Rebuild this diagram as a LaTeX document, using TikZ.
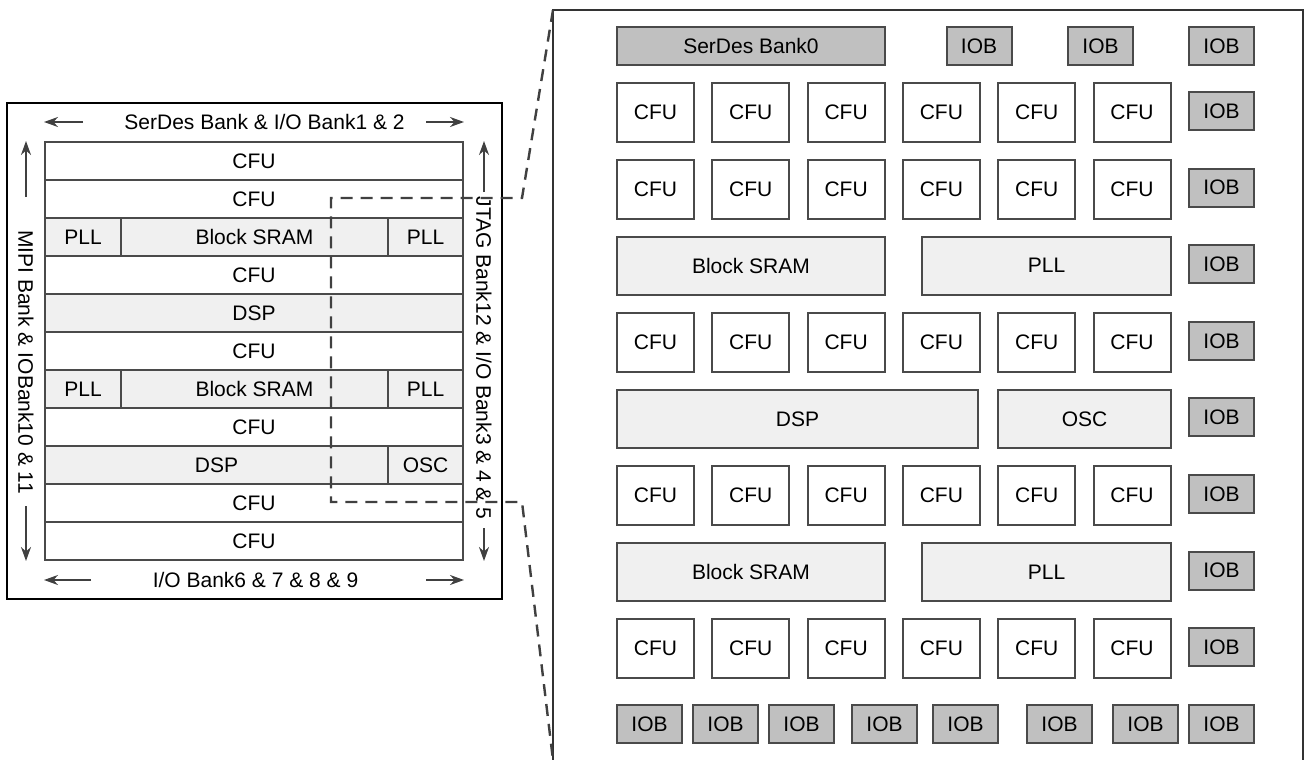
\documentclass[tikz,border=0pt]{standalone}
\usepackage{fontspec}
\setmainfont{Liberation Sans}
\usetikzlibrary{arrows.meta}
\definecolor{edgegray}{HTML}{4A4A4A}
\definecolor{lightfill}{HTML}{F0F0F0}
\definecolor{iofill}{HTML}{C0C0C0}
\begin{document}
\begin{tikzpicture}
		[x=1pt,y=-1pt,
		font=\fontsize{21}{25}\selectfont,
		blk/.style={draw=edgegray,line width=2pt,inner sep=0pt},
		row/.style={blk,fill=white,minimum width=418pt,minimum height=38pt},
		lrow/.style={blk,fill=lightfill,minimum height=38pt},
		cfu/.style={blk,fill=white,minimum width=77pt,minimum height=59pt},
		big/.style={blk,fill=lightfill,minimum height=58pt},
		iob/.style={blk,fill=iofill,minimum width=65pt,minimum height=38pt},
		arr/.style={draw=black!75,line width=2pt,-{Stealth[length=14pt,width=10pt]}},
		zoomline/.style={draw=black!75,line width=2.4pt,dash pattern=on 12pt off 8pt}
		]
		\useasboundingbox (0,0) rectangle (1307,760);
		
		% small chip
		\node[draw,line width=2.2pt,minimum width=495pt,minimum height=496pt,inner sep=0pt] (chip) at (254.5,351) {};
		\foreach \i in {0,1,3,5,7,9,10}
			\node[row] (l\i) at (254,161+38*\i) {CFU};
		\node[row,fill=lightfill] (l4) at (254,313) {DSP};
		\foreach \i in {2,6} {
			\node[lrow,minimum width=76pt] (lpa\i) at (83,161+38*\i) {PLL};
			\node[lrow,minimum width=267pt] (lsram\i) at (254.5,161+38*\i) {Block SRAM};
			\node[lrow,minimum width=75pt] (lpb\i) at (425.5,161+38*\i) {PLL};
		}
		\node[lrow,minimum width=343pt] (l8) at (216.5,465) {DSP};
		\node[lrow,minimum width=75pt] (losc) at (425.5,465) {OSC};
		
		\node[inner sep=0pt] (topbank) at (264.5,122) {SerDes Bank \& I/O Bank1 \& 2};
		\node[inner sep=0pt] (botbank) at (255.5,580) {I/O Bank6 \& 7 \& 8 \& 9};
		\node[inner sep=0pt,rotate=-90] (leftbank) at (26,362) {MIPI Bank \& IOBank10 \& 11};
		\node[inner sep=0pt,rotate=-90] (rightbank) at (484,358) {JTAG Bank12 \& I/O Bank3 \& 4 \& 5};
		\coordinate (tw) at (83,122);
		\coordinate (te) at (426,122);
		\coordinate (bw) at (91,580);
		\coordinate (be) at (426,580);
		\coordinate (lt) at (26,197);
		\coordinate (lb) at (26,506);
		\coordinate (rt) at (484,192);
		\coordinate (rb) at (484,528);
		\draw[arr] (tw) -- (tw -| l0.west);
		\draw[arr] (te) -- (te -| l0.east);
		\draw[arr] (bw) -- (bw -| l10.west);
		\draw[arr] (be) -- (be -| l10.east);
		\draw[arr] (lt) -- (lt |- l0.north);
		\draw[arr] (lb) -- (lb |- l10.south);
		\draw[arr] (rt) -- (rt |- l0.north);
		\draw[arr] (rb) -- (rb |- l10.south);
		
		% zoomed part
		\coordinate (pnw) at (553,10);
		\coordinate (pne) at (1303,10);
		\draw[black!80,line width=2.2pt] (pnw |- 0,760) -- (pnw) -- (pne) -- (pne |- 0,760);
		
		\node[iob,minimum width=268pt] (serdes) at (751,46) {SerDes Bank0};
		\foreach \x [count=\k] in {979,1100.5,1221.5}
			\node[iob] (tio\k) at (\x,46) {IOB};
		\foreach \r in {0,1,3,5,7}
			\foreach \c in {0,...,5}
				\node[cfu] (c\r-\c) at (655.5+95.3*\c,112.5+76.6*\r) {CFU};
		\foreach \r in {2,6} {
			\node[big,minimum width=268pt] (sram\r) at (751,112.5+76.6*\r) {Block SRAM};
			\node[big,minimum width=249pt] (pll\r) at (1046.5,112.5+76.6*\r) {PLL};
		}
		\node[big,minimum width=361pt] (dsp) at (797.5,418.9) {DSP};
		\node[big,minimum width=173pt] (osc) at (1084.5,418.9) {OSC};
		\foreach \r in {0,...,7}
			\node[iob] (io\r) at (1221.5,111+76.6*\r) {IOB};
		\foreach \x [count=\k] in {617,693,769,852,933,1027,1113,1189}
			\node[iob] (bio\k) at (\x+32.5,724) {IOB};
		
		\coordinate (zt) at (522,198);
		\coordinate (zb) at (522,502);
		\coordinate (zl) at (331,198);
		\coordinate (zlb) at (331,502);
		\draw[zoomline] (pnw) -- (zt) -- (zl) -- (zlb) -- (zb) -- (pnw |- 0,760);
	\end{tikzpicture}
\end{document}
